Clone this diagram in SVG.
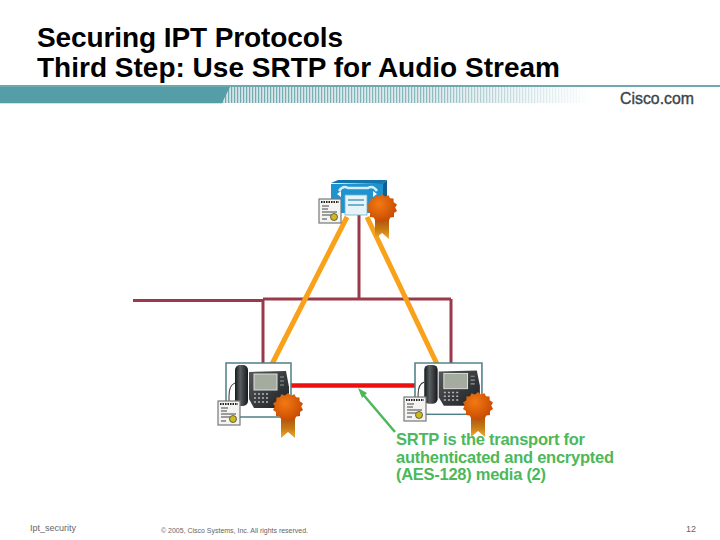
<svg xmlns="http://www.w3.org/2000/svg" width="720" height="540" viewBox="0 0 720 540">
<style>
text{font-family:"Liberation Sans",Arial,sans-serif}
.t{font-size:28px;font-weight:bold;fill:#000}
.n{font-size:16.500px;font-weight:bold;fill:#4cb85a}
.f{font-size:9px;fill:#666}
.net{stroke:#993a4c;stroke-width:3;fill:none}
.or{stroke:#f9a11b;stroke-width:5;fill:none}
</style>
<defs>
<linearGradient id="fade" x1="0" x2="1" y1="0" y2="0"><stop offset="0" stop-color="#fff" stop-opacity="0"/><stop offset=".55" stop-color="#fff" stop-opacity=".2"/><stop offset="1" stop-color="#fff"/></linearGradient>
<pattern id="bars" width="3" height="20" patternUnits="userSpaceOnUse"><rect width="3" height="20" fill="#d5e6e8"/><rect width="1.200" height="20" fill="#6ea8b0"/></pattern>
<linearGradient id="rib" x1="0" x2="0" y1="0" y2="1"><stop offset="0" stop-color="#a8500c"/><stop offset=".55" stop-color="#c87a14"/><stop offset="1" stop-color="#f0ac34"/></linearGradient>
<radialGradient id="med" cx=".4" cy=".35" r=".7"><stop offset="0" stop-color="#f27a12"/><stop offset="1" stop-color="#c44500"/></radialGradient>
<linearGradient id="body" x1="0" x2="1" y1="0" y2="1"><stop offset="0" stop-color="#55595c"/><stop offset="1" stop-color="#1d2023"/></linearGradient>
<linearGradient id="hs" x1="0" x2="1" y1="0" y2="0"><stop offset="0" stop-color="#15181a"/><stop offset=".4" stop-color="#5a5f63"/><stop offset="1" stop-color="#15181a"/></linearGradient>
<g id="cert">
<rect x="0" y="0" width="22" height="24" fill="#f4f4f2" stroke="#777" stroke-width="1.2"/>
<path d="M2 3H20" stroke="#222" stroke-width="1.8" stroke-dasharray="1.5 1"/>
<path d="M3 7h7M3 10h6M3 13h15M3 16h9M3 20h5" stroke="#444" stroke-width="1"/>
<circle cx="15" cy="18" r="3.500" fill="#cdbb1e" stroke="#333" stroke-width=".7"/>
</g>
<g id="medal">
<path d="M-7 9L-7 30L0 24L7 30L7 9Z" fill="url(#rib)"/>
<polygon points="0,-15 3,-12.500 6.500,-13.800 8,-10.800 11.500,-10.500 11.700,-6.800 15,-4.500 13.200,-1.500 15,2 12,4 12,8 8.300,8.500 6.500,12 3,11 0,14 -3,11 -6.500,12 -8.300,8.500 -12,8 -12,4 -15,2 -13.200,-1.500 -15,-4.500 -11.700,-6.800 -11.500,-10.500 -8,-10.800 -6.500,-13.800 -3,-12.500" fill="url(#med)"/>
</g>
<g id="phone">
<rect x="0" y="0" width="65" height="54" fill="#fff" stroke="#4d7f85" stroke-width="1.500"/>
<polygon points="23,9 60,8 63,24 63,38 56,45 28,45 23,36" fill="url(#body)"/>
<rect x="28" y="11" width="23" height="16" fill="#a3ac9f" stroke="#ddd" stroke-width="1"/>
<path d="M54 14h4M54 18h4M54 22h4" stroke="#999" stroke-width="1.200"/>
<path d="M28 31h14M28 35h14M28 39h14" stroke="#b5b5b5" stroke-width="1.500" stroke-dasharray="2 2"/>
<rect x="9" y="2" width="13" height="41" rx="5" fill="url(#hs)"/>
<path d="M9 20Q3 22 3 33V46" fill="none" stroke="#333" stroke-width="1"/>
</g>
</defs>
<rect width="720" height="540" fill="#fff"/>
<text class="t" x="37" y="47" textLength="306">Securing IPT Protocols</text>
<text class="t" x="37" y="77" textLength="523">Third Step: Use SRTP for Audio Stream</text>
<g id="banner">
<rect x="0" y="85" width="720" height="2" fill="#6fa9b0"/>
<rect x="222" y="87" width="370" height="16" fill="url(#bars)"/>
<rect x="222" y="87" width="370" height="16" fill="url(#fade)"/>
<polygon points="0,87 230,87 222,103 0,103" fill="#559ea8"/>
<rect x="0" y="103" width="222" height="1" fill="#c8e8ea"/>
<text x="620" y="104" font-size="17" fill="#3d4448" stroke="#3d4448" stroke-width=".4" textLength="74" lengthAdjust="spacingAndGlyphs">Cisco.com</text>
</g>
<g id="connectors">
<path class="net" d="M263 299H451M359 215V299M263 299V364M451 299V364"/>
<path class="net" d="M133 300.500H263" stroke-width="3.500"/>
<path class="or" d="M347 217L272 364M367 217L437 364"/>
<path d="M291 385.500H416" stroke="#ee1010" stroke-width="4.500" fill="none"/>
<path d="M395 432L361 392" stroke="#4cb85a" stroke-width="2.500" fill="none"/>
<path d="M358 388L367 393L362 398Z" fill="#4cb85a"/>
</g>
<g id="note">
<text class="n" x="396" y="445" textLength="189">SRTP is the transport for</text>
<text class="n" x="396" y="463" textLength="218">authenticated and encrypted</text>
<text class="n" x="396" y="480" textLength="150">(AES-128) media (2)</text>
</g>
<g id="server">
<polygon points="331,183 382,184 387,180 338,180" fill="#1576ad"/>
<polygon points="382,184 387,180 387,209 383,213" fill="#0f5f92"/>
<rect x="331" y="184" width="52" height="29" fill="#1f93cf"/>
<path d="M339 191q4 -6 9 -3h20q5 -3 9 3" fill="none" stroke="#d6edf6" stroke-width="2.500"/>
<path d="M337 194l4 -3v6zM377 194l-4 -3v6z" fill="#fff"/>
<rect x="345" y="195" width="22" height="20" fill="#e8f3f8" stroke="#6fb0cc" stroke-width=".8"/>
<path d="M348 200h16M348 205h16" stroke="#4b9cc4" stroke-width="1.500"/>
<use href="#cert" transform="translate(319,199)"/>
<use href="#medal" transform="translate(382,209)"/>
</g>
<g id="phone-left">
<use href="#phone" transform="translate(226,363)"/>
<use href="#cert" transform="translate(218,401)"/>
<use href="#medal" transform="translate(288,408)"/>
</g>
<g id="phone-right">
<use href="#phone" transform="translate(415,363) scale(1.030,.95)"/>
<use href="#cert" transform="translate(404,397)"/>
<use href="#medal" transform="translate(478,407)"/>
</g>
<g id="footer">
<text class="f" x="30" y="531" textLength="46">Ipt_security</text>
<text class="f" x="161" y="533" style="font-size:7px" textLength="147">© 2005, Cisco Systems, Inc. All rights reserved.</text>
<text class="f" x="686" y="532">12</text>
</g>
</svg>
